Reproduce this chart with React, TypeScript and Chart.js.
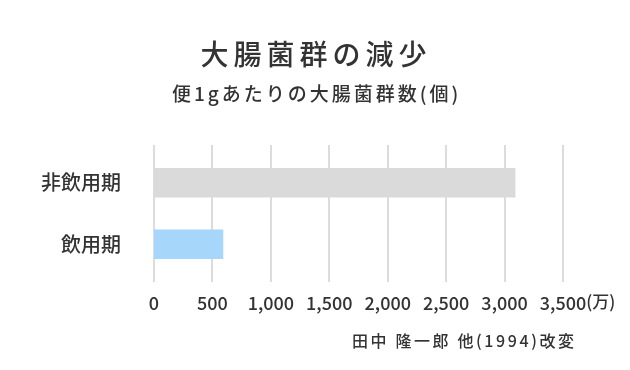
import React, { useEffect, useRef } from 'react';
import { Chart, registerables } from 'chart.js';

Chart.register(...registerables);

const categories = ['非飲用期', '飲用期'];
const values = [3090, 590];
const barColors = ['#dadada', '#a6d7fa'];
const xTickLabels = ['0', '500', '1,000', '1,500', '2,000', '2,500', '3,000', '3,500'];
const xMin = 0;
const xMax = 3500;
const xStep = 500;
const xUnit = '(万)';
const titleText = '大腸菌群の減少';
const subtitleText = '便1gあたりの大腸菌群数(個)';
const sourceText = '田中 隆一郎 他(1994)改変';

const FONT = '"Noto Sans CJK JP", "Noto Sans", sans-serif';
const TEXT = '#333333';
const WEIGHT = 500;

const gridPlugin = {
  id: 'extGrid',
  beforeDatasetsDraw(chart: any) {
    const { ctx, chartArea, scales } = chart;
    const x = scales.x;
    ctx.save();
    ctx.strokeStyle = '#dcdcdc';
    ctx.lineWidth = 2;
    x.ticks.forEach((t: any) => {
      const px = Math.round(x.getPixelForValue(t.value));
      ctx.beginPath();
      ctx.moveTo(px, chartArea.top - 7);
      ctx.lineTo(px, chartArea.bottom + 7);
      ctx.stroke();
    });
    ctx.restore();
  },
};

function drawText(ctx: any, text: string, x: number, y: number, size: number, spacing: number, align: string) {
  ctx.save();
  ctx.font = `${WEIGHT} ${size}px ${FONT}`;
  ctx.fillStyle = TEXT;
  ctx.textAlign = align;
  ctx.textBaseline = 'middle';
  try { ctx.letterSpacing = spacing + 'px'; } catch (e) { /* ignore */ }
  ctx.fillText(text, x, y);
  ctx.restore();
}

const textPlugin = {
  id: 'texts',
  afterDraw(chart: any) {
    const { ctx, scales } = chart;
    drawText(ctx, titleText, 316, 54, 28, 5, 'center');
    drawText(ctx, subtitleText, 172, 94, 19, 3, 'left');
    drawText(ctx, sourceText, 352, 341, 16, 2.6, 'left');
    // unit after the last x tick label
    const x = scales.x;
    const px = x.getPixelForValue(xMax);
    ctx.save();
    ctx.font = `${WEIGHT} 18px ${FONT}`;
    const w = ctx.measureText(xTickLabels[xTickLabels.length - 1]).width;
    ctx.restore();
    drawText(ctx, xUnit, px + w / 2, 302, 17, 0, 'left');
  },
};

export default function App() {
  const ref = useRef<HTMLCanvasElement | null>(null);
  useEffect(() => {
    document.body.style.margin = '0';
    const canvas = ref.current;
    if (!canvas) return;
    const chart = new Chart(canvas, {
      type: 'bar',
      data: {
        labels: categories,
        datasets: [
          {
            data: values,
            backgroundColor: barColors,
            borderWidth: 0,
            barThickness: 29,
          },
        ],
      },
      options: {
        indexAxis: 'y',
        responsive: false,
        animation: false,
        devicePixelRatio: 1,
        layout: { padding: { top: 152, right: 67, bottom: 55, left: 0 } },
        plugins: {
          legend: { display: false },
          tooltip: { enabled: false },
          title: { display: false },
        },
        scales: {
          x: {
            type: 'linear',
            position: 'bottom',
            min: xMin,
            max: xMax,
            ticks: {
              stepSize: xStep,
              autoSkip: false,
              maxRotation: 0,
              padding: 17,
              color: TEXT,
              font: { family: FONT, size: 18, weight: WEIGHT },
              callback: (_v: any, i: number) => xTickLabels[i],
            },
            grid: { display: false, drawTicks: false },
            border: { display: false },
            afterFit: (s: any) => { s.height = 40; },
          },
          y: {
            type: 'category',
            ticks: {
              padding: 33,
              color: TEXT,
              font: { family: FONT, size: 20, weight: WEIGHT },
            },
            grid: { display: false, drawTicks: false },
            border: { display: false },
            afterFit: (s: any) => { s.width = 154; },
          },
        },
      },
      plugins: [gridPlugin, textPlugin],
    } as any);
    return () => chart.destroy();
  }, []);
  return (
    <div style={{ width: 630, height: 370, background: '#ffffff' }}>
      <canvas ref={ref} width={630} height={370} />
    </div>
  );
}
